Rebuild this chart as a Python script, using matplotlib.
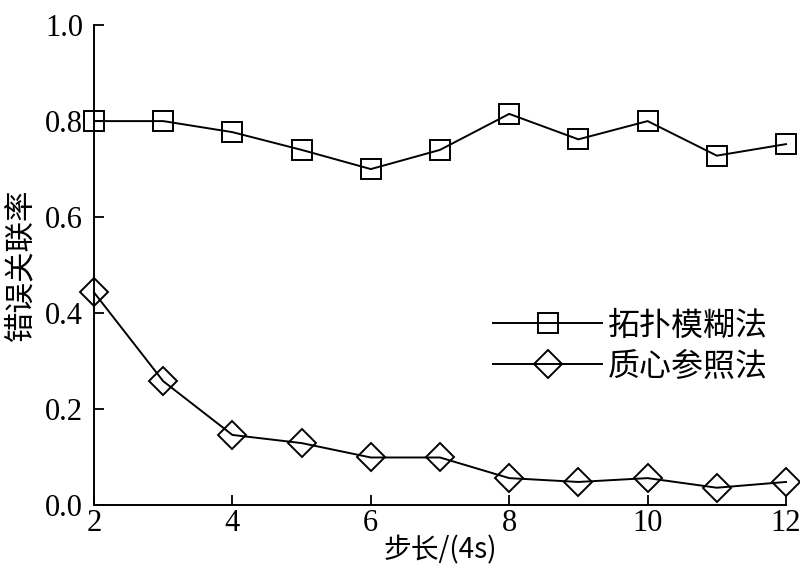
import matplotlib
matplotlib.use("Agg")
import matplotlib.pyplot as plt

plt.rcParams['font.family'] = ['Liberation Serif', 'Noto Sans CJK SC', 'DejaVu Sans']

steps = [2, 3, 4, 5, 6, 7, 8, 9, 10, 11, 12]
topo_fuzzy = [0.80, 0.80, 0.777, 0.74, 0.70, 0.74, 0.815, 0.762, 0.80, 0.728, 0.752]
centroid_ref = [0.443, 0.258, 0.146, 0.129, 0.099, 0.099, 0.056, 0.048, 0.056, 0.036, 0.048]

fig = plt.figure(figsize=(8, 5.71), dpi=100)
ax = fig.add_axes([0.1175, 0.1156, 0.865, 0.8404])

ax.plot(steps, topo_fuzzy, color='black', lw=1.4, marker='s', markersize=15,
        markerfacecolor='none', markeredgewidth=1.4, label='拓扑模糊法', clip_on=False)
ax.plot(steps, centroid_ref, color='black', lw=1.4, marker='D', markersize=14,
        markerfacecolor='none', markeredgewidth=1.4, label='质心参照法', clip_on=False)

ax.set_xlim(2, 12)
ax.set_ylim(0, 1.0)
ax.set_xticks([2, 4, 6, 8, 10, 12])
ax.set_yticks([0.0, 0.2, 0.4, 0.6, 0.8, 1.0])
ax.set_yticklabels(['0.0', '0.2', '0.4', '0.6', '0.8', '1.0'])
ax.tick_params(direction='in', length=7, width=1.3, labelsize=22)
ax.tick_params(axis='y', pad=8)
ax.tick_params(axis='x', pad=3)
for s in ['top', 'right']:
    ax.spines[s].set_visible(False)
for s in ['left', 'bottom']:
    ax.spines[s].set_linewidth(1.4)

ax.set_xlabel('步长/(4s)', fontsize=20, family=['Noto Sans CJK SC'], labelpad=-2)
ax.set_ylabel('错误关联率', fontsize=22, labelpad=6)

ax.legend(loc='upper left', bbox_to_anchor=(0.577, 0.405), frameon=False,
          fontsize=23, handlelength=3.4, handletextpad=0.2, labelspacing=0.35,
          borderpad=0, borderaxespad=0)

fig.savefig('out.png', dpi=100)
